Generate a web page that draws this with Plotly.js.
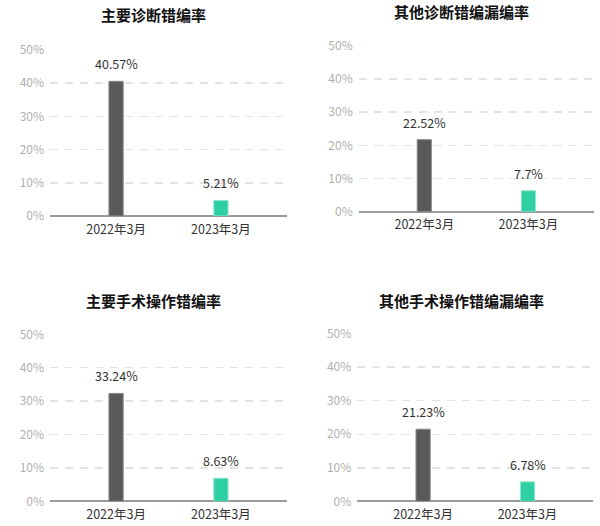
<!DOCTYPE html>
<html><head><meta charset="utf-8">
<script src="https://cdn.plot.ly/plotly-3.0.1.min.js"></script>
<style>html,body{margin:0;padding:0;background:#fff}#chart{width:600px;height:526px}</style>
</head><body><div id="chart"></div>
<script>
const categories = ['2022年3月', '2023年3月'];
const titles = ['主要诊断错编率', '其他诊断错编漏编率', '主要手术操作错编率', '其他手术操作错编漏编率'];
// bar heights as drawn in the reference (%)
const bars1 = [40.57, 4.7];
const bars2 = [21.7, 6.3];
const bars3 = [32.3, 6.9];
const bars4 = [21.5, 5.8];
// value labels printed above the bars
const labels1 = ['40.57%', '5.21%'];
const labels2 = ['22.52%', '7.7%'];
const labels3 = ['33.24%', '8.63%'];
const labels4 = ['21.23%', '6.78%'];
const yTickVals = [0, 10, 20, 30, 40, 50];
const yTickText = ['0%', '10%', '20%', '30%', '40%', '50%'];

const barColors = ['#595959', '#2dcfa3'];
const lineColors = ['#8a8a8a', '#8fe6cd'];
const font = '"Noto Sans CJK SC", "Noto Sans", sans-serif';

const allBars = [bars1, bars2, bars3, bars4];
const allLabels = [labels1, labels2, labels3, labels4];

// panel geometry in pixels
const W = 600, H = 526;
const panels = [
  {x0: 50, x1: 287, yb: 216, yt: 50, tx: 153, ty: 15},
  {x0: 358.7, x1: 594, yb: 211.7, yt: 45.7, tx: 461.7, ty: 12},
  {x0: 50, x1: 287, yb: 501.3, yt: 334.3, tx: 153, ty: 300},
  {x0: 357.3, x1: 593.3, yb: 501.3, yt: 333.7, tx: 461.7, ty: 300}
];

const data = [];
const layout = {
  width: W, height: H, margin: {l: 0, r: 0, t: 0, b: 0},
  paper_bgcolor: '#fff', plot_bgcolor: '#fff', showlegend: false,
  font: {family: font}, bargap: 0, annotations: []
};

panels.forEach((p, i) => {
  const n = i === 0 ? '' : String(i + 1);
  data.push({
    type: 'bar', x: categories, y: allBars[i],
    xaxis: 'x' + n, yaxis: 'y' + n,
    width: 0.136,
    marker: {color: barColors, line: {color: lineColors, width: 1}},
    hoverinfo: 'none'
  });
  layout['xaxis' + n] = {
    domain: [p.x0 / W, p.x1 / W], anchor: 'y' + n,
    type: 'category', range: [-0.63, 1.63],
    showgrid: false, showline: false, zeroline: false, ticks: '',
    ticklabelstandoff: 4,
    tickfont: {family: font, size: 12.5, color: '#333'},
    fixedrange: true
  };
  layout['yaxis' + n] = {
    domain: [1 - p.yb / H, 1 - p.yt / H], anchor: 'x' + n,
    range: [0, 50], tickvals: yTickVals, ticktext: yTickText,
    showgrid: true, gridcolor: '#e3e3e3', gridwidth: 1.5, griddash: '8px,7px',
    zeroline: true, zerolinecolor: '#9a9a9a', zerolinewidth: 2,
    showline: false, ticks: '', ticklabelstandoff: 5,
    tickfont: {family: font, size: 12, color: '#b0b0b0'},
    fixedrange: true
  };
  categories.forEach((c, j) => {
    layout.annotations.push({
      xref: 'x' + n, yref: 'y' + n, x: c, y: allBars[i][j],
      xanchor: 'center', yanchor: 'bottom', yshift: 6, showarrow: false,
      text: allLabels[i][j],
      font: {family: font, size: 12.5, color: '#333'}
    });
  });
  layout.annotations.push({
    xref: 'paper', yref: 'paper', x: p.tx / W, y: 1 - p.ty / H,
    xanchor: 'center', yanchor: 'middle', showarrow: false,
    text: '<b>' + titles[i] + '</b>',
    font: {family: font, size: 15, color: '#111'}
  });
});

Plotly.newPlot('chart', data, layout, {displayModeBar: false, staticPlot: true});
</script></body></html>
